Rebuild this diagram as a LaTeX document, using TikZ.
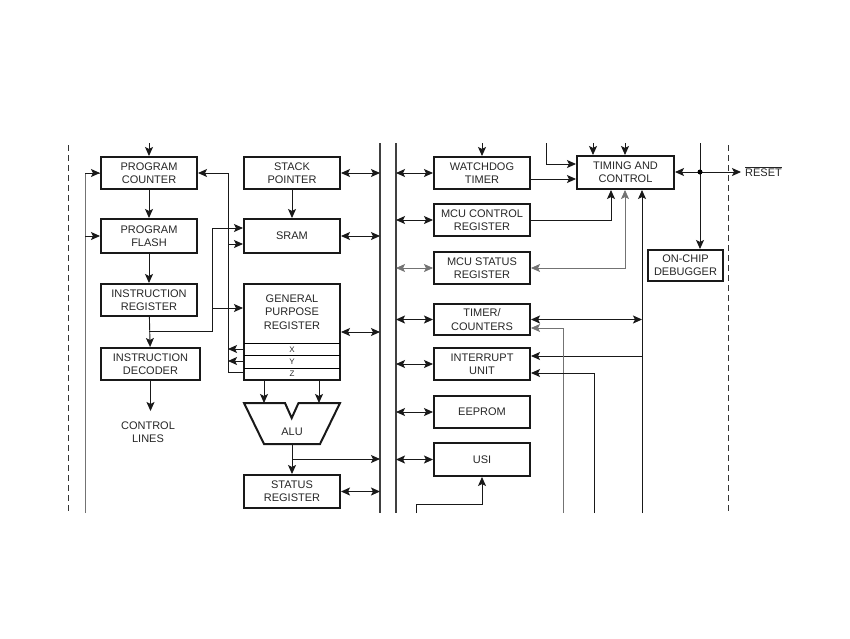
\documentclass[tikz,border=0pt]{standalone}
\usepackage{fontspec}
\setmainfont{Liberation Sans}
\usetikzlibrary{arrows.meta}

\begin{document}
\begin{tikzpicture}[x=1pt,y=-1pt,
  every node/.style={font=\fontsize{11}{13.3}\selectfont, text=black!85, align=center},
  box/.style={draw=black!90, line width=2pt, minimum width=96pt, minimum height=32pt, inner sep=0pt},
  conn/.style={line width=0.9pt, draw=black!90},
  faint/.style={line width=0.7pt, draw=black!55},
  busline/.style={line width=2pt, draw=black!75},
  edge/.style={line width=0.8pt, draw=black!80, dash pattern=on 6pt off 4pt},
  >={Stealth[length=9pt,width=8pt,inset=2pt]}]

  \useasboundingbox (0,0) rectangle (850,638);

  % ==================================================
  % Chip edges and the internal data bus
  % ==================================================
  \draw[edge] (68,145) -- (68,513);
  \draw[edge] (728,145) -- (728,513);
  \draw[busline] (380,143) coordinate (busL) -- (380,513);
  \draw[busline] (396,143) coordinate (busR) -- (396,513);

  % ==================================================
  % Left column (program path)
  % ==================================================
  \begin{scope}
    % -- Boxes
    \node[box] (pc) at (149,173) {PROGRAM\\COUNTER};
    \node[box, minimum height=34pt] (flash) at (149,236) {PROGRAM\\FLASH};
    \node[box] (ir) at (149,300) {INSTRUCTION\\REGISTER};
    \node[box, minimum width=99pt] (dec) at (150.5,364) {INSTRUCTION\\DECODER};
    \node[inner sep=0pt] (ctl) at (148,432) {CONTROL\\LINES};

    % -- Vertical flow
    \coordinate (pcin) at (pc.north |- 0,143);
    \draw[conn,->] (pcin) -- (pc.north);
    \draw[conn,->] (pc) -- (flash);
    \draw[conn,->] (flash) -- (ir);
    \draw[conn,->] (ir) -- (dec);
    \draw[conn,->] (dec.south) -- (dec.south |- 0,411);

    % -- Outer return line on the left
    \coordinate (lb) at (85,513);
    \draw[faint] (lb) |- (pc.west);
    \draw[conn,->] (lb |- pc.west) -- (pc.west);
    \draw[conn,->] (lb |- flash.west) -- (flash.west);
  \end{scope}

  % ==================================================
  % Middle column (stack, SRAM, registers, ALU)
  % ==================================================
  \begin{scope}
    % -- Boxes
    \node[box] (sp) at (292,173) {STACK\\POINTER};
    \node[box, minimum height=34pt] (sram) at (292,236) {SRAM};
    \node[box, minimum height=96pt] (gpr) at (292,332) {};
    \node (gprtxt) at (292,312) {GENERAL\\PURPOSE\\REGISTER};
    \node[box, minimum height=33pt] (sreg) at (292,491.5) {STATUS\\REGISTER};

    %    X, Y, Z rows of the register file
    \draw[line width=0.8pt] (244,343) -- (340,343);
    \draw[line width=0.8pt] (244,355.5) -- (340,355.5);
    \draw[line width=0.8pt] (244,368) -- (340,368);
    \node[font=\fontsize{8}{9}\selectfont] (rx) at (292,349.5) {X};
    \node[font=\fontsize{8}{9}\selectfont] (ry) at (292,362) {Y};
    \node[font=\fontsize{8}{9}\selectfont] (rz) at (292,374) {Z};
    \coordinate (rowx) at (244,349);
    \coordinate (rowy) at (244,361);
    \coordinate (rowz) at (244,372);

    % -- ALU (trapezoid with a notch)
    \draw[line width=2pt, black!90, line join=miter]
      (244,403) -- (285,403) -- (291.7,418) -- (298.5,403) -- (340,403)
      -- (320,444) -- (264,444) -- cycle;
    \node (alu) at (292,432) {ALU};
    \coordinate (alul) at (264,403);
    \coordinate (alur) at (319,403);
    \coordinate (aluout) at (292,444);

    % -- Links inside the column
    \draw[conn,->] (sp) -- (sram);
    \draw[conn,->] (gpr.south -| alul) -- (alul);
    \draw[conn,->] (gpr.south -| alur) -- (alur);
    \draw[conn,->] (aluout) -- (sreg.north);
    \draw[conn,->] (aluout |- 0,459) -- (busL |- 0,459);

    % -- Pointer return line (x = 228)
    \coordinate (xz) at (228,0);
    \draw[conn,->] (rowz) -- (xz |- rowz) |- (pc.east);
    \draw[conn,->] (xz |- 0,244) -- (sram.west |- 0,244);
    \draw[conn,->] (rowx) -- (xz |- rowx);
    \draw[conn,->] (rowy) -- (xz |- rowy);

    % -- Instruction register to SRAM / registers (x = 212)
    \coordinate (irj) at (ir.south |- 0,331);
    \draw[conn,->] (irj) -- (212,331) |- (sram.west |- 0,228);
    \draw[conn,->] (212,308) -- (gpr.west |- 0,308);

    % -- To the data bus
    \draw[conn,<->] (sp.east) -- (sp.east -| busL);
    \draw[conn,<->] (sram.east) -- (sram.east -| busL);
    \draw[conn,<->] (gpr.east) -- (gpr.east -| busL);
    \draw[conn,<->] (sreg.east) -- (sreg.east -| busL);
  \end{scope}

  % ==================================================
  % Right column (peripherals)
  % ==================================================
  \begin{scope}
    % -- Boxes
    \node[box] (wdt) at (482,173) {WATCHDOG\\TIMER};
    \node[box] (mcucr) at (482,220) {MCU CONTROL\\REGISTER};
    \node[box] (mcusr) at (482,268) {MCU STATUS\\REGISTER};
    \node[box, minimum height=31pt] (tc) at (482,319.5) {TIMER/\\COUNTERS};
    \node[box] (intu) at (482,364) {INTERRUPT\\UNIT};
    \node[box] (eeprom) at (482,412) {EEPROM};
    \node[box, minimum height=33pt] (usi) at (482,459.5) {USI};
    \node[box, minimum width=97pt, minimum height=33pt] (tac) at (625.5,172.5) {TIMING AND\\CONTROL};
    \node[box, minimum width=75pt, minimum height=31pt] (ocd) at (685.5,265.5) {ON-CHIP\\DEBUGGER};

    % -- From the data bus
    \draw[conn,<->] (busR |- wdt) -- (wdt.west);
    \draw[conn,<->] (busR |- mcucr) -- (mcucr.west);
    \draw[faint,<->] (busR |- mcusr) -- (mcusr.west);
    \draw[conn,<->] (busR |- tc) -- (tc.west);
    \draw[conn,<->] (busR |- intu) -- (intu.west);
    \draw[conn,<->] (busR |- eeprom) -- (eeprom.west);
    \draw[conn,<->] (busR |- usi) -- (usi.west);

    % -- Inputs from the top
    \draw[conn,->] (wdt.north |- 0,143) -- (wdt.north);
    \draw[conn,->] (593,143) -- (593,0 |- tac.north);
    \draw[conn,->] (625,143) -- (625,0 |- tac.north);
    \draw[conn,->] (546,143) |- (tac.west |- 0,164);

    % -- Into timing and control
    \draw[conn,->] (wdt.east |- 0,179) -- (tac.west |- 0,179);
    \draw[conn,->] (mcucr.east) -| (611,0 |- tac.south);
    \draw[faint,<->] (mcusr.east) -| (625,0 |- tac.south);
    \draw[conn,->] (642,513) -- (642,0 |- tac.south);

    % -- Timer and interrupt lines
    \draw[conn,<->] (tc.east) -- (642,0 |- tc.east);
    \draw[conn,->] (642,356) -- (intu.east |- 0,356);
    \draw[faint,->] (563,513) |- (tc.east |- 0,328);
    \draw[conn,->] (594,513) |- (intu.east |- 0,373);
    \draw[conn,->] (416,513) -- (416,504) -| (usi.south);

    % -- Reset and debugger
    \coordinate (rj) at (700,172);
    \node[anchor=west, inner sep=0pt] (rst) at (745,173) {RESET};
    \draw[line width=0.7pt, black!85] ([yshift=2pt]rst.north west) -- ([yshift=2pt]rst.north east);
    \draw[conn] (700,143) -- (rj);
    \draw[conn,->] (rj) -- (tac.east |- rj);
    \draw[conn,->] (rj) -- (ocd.north -| rj);
    \draw[conn,->] (rj) -- (741,172);
    \fill[black] (rj) circle (2.5pt);
  \end{scope}

\end{tikzpicture}
\end{document}
